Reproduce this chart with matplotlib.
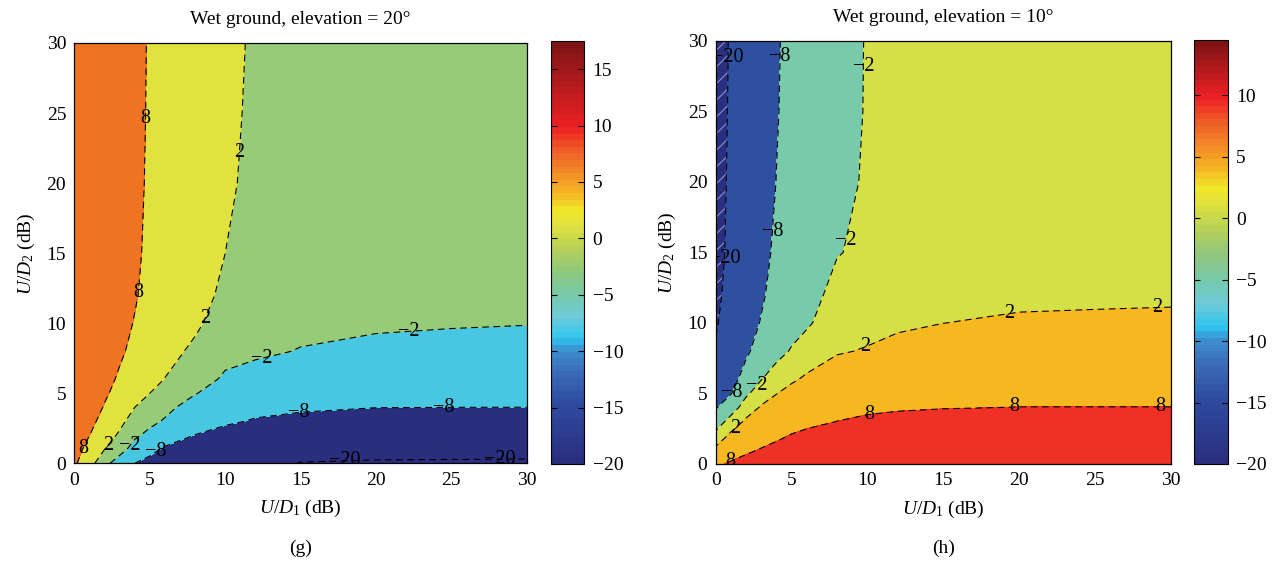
import numpy as np
import matplotlib
matplotlib.use("Agg")
import matplotlib.pyplot as plt
from matplotlib.colors import LinearSegmentedColormap, Normalize
from matplotlib.cm import ScalarMappable

plt.rcParams['font.family'] = 'Liberation Serif'
plt.rcParams['mathtext.fontset'] = 'custom'
plt.rcParams['mathtext.rm'] = 'Liberation Serif'
plt.rcParams['mathtext.it'] = 'Liberation Serif:italic'
plt.rcParams['font.size'] = 14
plt.rcParams['hatch.color'] = '#8c90c8'
plt.rcParams['hatch.linewidth'] = 0.8

# grid of U/D1 (x) and U/D2 (y), dB
u_d1 = [0, 1, 2, 3, 4, 5, 6, 8, 10, 12, 15, 20, 25, 30]
u_d2 = [0, 1, 2, 3, 4, 5, 6, 8, 10, 12, 15, 20, 25, 30]
levels = [-20, -8, -2, 2, 8]

# values, one list per U/D1 column (bottom -> top in U/D2)
z20_cols = [
    [9.0, 10.5, 11.8, 12.8, 13.6, 14.2, 14.7, 15.5, 16.0, 16.4, 16.8, 17.2, 17.4, 17.5],
    [3.4, 5.8, 8.0, 9.6, 10.8, 11.7, 12.4, 13.4, 14.0, 14.4, 14.8, 15.1, 15.2, 15.2],
    [-0.7, 2.0, 4.2, 6.0, 7.6, 8.8, 9.8, 11.2, 12.0, 12.5, 12.8, 13.0, 13.0, 13.0],
    [-4.3, -0.3, 1.3, 3.2, 4.7, 6.1, 7.2, 8.9, 9.9, 10.5, 10.9, 11.0, 11.0, 11.0],
    [-8.0, -3.8, -1.3, 0.0, 2.0, 3.5, 4.6, 6.5, 7.7, 8.5, 9.0, 9.2, 9.3, 9.3],
    [-9.2, -6.9, -3.1, -1.0, 0.5, 2.0, 3.4, 4.7, 5.6, 6.2, 6.8, 7.3, 7.5, 7.6],
    [-10.3, -8.6, -5.8, -2.4, -0.9, 0.5, 1.9, 3.6, 4.5, 5.0, 5.5, 6.0, 6.3, 6.4],
    [-12.6, -10.4, -8.1, -5.9, -3.8, -1.8, -0.8, 1.1, 2.8, 3.3, 3.8, 4.1, 4.25, 4.3],
    [-14.9, -12.2, -9.6, -7.3, -5.7, -4.0, -2.4, -1.15, -0.2, 1.3, 2.0, 2.5, 2.7, 2.8],
    [-17.2, -14.3, -11.4, -8.4, -6.7, -5.3, -3.8, -1.2, -0.6, 0.4, 1.0, 1.25, 1.45, 1.6],
    [-20.3, -16.7, -13.4, -9.8, -7.0, -5.9, -4.9, -2.2, -0.9, -0.1, 0.4, 0.55, 0.6, 0.6],
    [-20.8, -17.5, -14.2, -10.9, -7.9, -6.75, -5.6, -3.36, -1.2, -0.7, -0.2, -0.1, -0.1, -0.1],
    [-20.9, -17.6, -14.4, -11.2, -7.98, -6.9, -5.8, -3.7, -1.6, -1.05, -0.65, -0.45, -0.4, -0.4],
    [-21.0, -17.7, -14.5, -11.2, -8.0, -6.96, -5.9, -3.85, -1.85, -1.2, -0.8, -0.6, -0.5, -0.5],
]
z10_cols = [
    [7.2, 2.87, -0.7, -4.4, -8.5, -10.6, -13.0, -18.5, -21.6, -24.9, -30.0, -34.7, -41.6, -49.3],
    [8.6, 5.73, 2.86, -0.33, -4.14, -8.3, -10.8, -11.5, -12.4, -12.9, -13.3, -13.7, -13.9, -14.0],
    [9.5, 7.25, 4.97, 2.68, 0.0, -2.72, -5.12, -9.2, -10.3, -10.9, -11.3, -11.6, -11.8, -11.9],
    [10.2, 8.25, 6.3, 4.35, 2.4, 0.12, -2.13, -5.0, -7.7, -8.7, -9.4, -9.8, -9.9, -9.9],
    [10.9, 9.07, 7.28, 5.5, 3.7, 1.9, -0.05, -3.3, -5.0, -6.2, -7.2, -7.95, -8.25, -8.4],
    [11.6, 9.9, 8.22, 6.53, 4.85, 3.16, 1.5, -1.68, -3.5, -4.6, -5.6, -6.4, -6.8, -6.9],
    [11.9, 10.34, 8.78, 7.22, 5.66, 4.1, 2.55, -0.03, -2.6, -3.6, -4.4, -5.1, -5.5, -5.6],
    [12.5, 11.0, 9.5, 8.05, 6.7, 5.36, 4.0, 1.7, 0.5, -0.7, -2.2, -2.9, -3.3, -3.4],
    [13.0, 11.55, 10.1, 8.66, 7.34, 6.1, 4.88, 2.25, 0.9, 0.0, -1.2, -1.64, -1.77, -1.8],
    [13.4, 11.93, 10.47, 9.0, 7.65, 6.57, 5.48, 3.3, 1.3, 0.5, -0.3, -0.6, -0.7, -0.7],
    [13.8, 12.3, 10.8, 9.3, 7.88, 6.9, 5.9, 3.95, 1.98, 1.0, 0.5, 0.3, 0.2, 0.2],
    [14.2, 12.66, 11.1, 9.6, 8.05, 7.13, 6.23, 4.43, 2.5, 1.2, 0.95, 0.85, 0.8, 0.8],
    [14.4, 12.8, 11.2, 9.6, 8.05, 7.15, 6.28, 4.5, 2.4, 1.57, 1.2, 1.05, 1.0, 1.0],
    [14.5, 12.9, 11.27, 9.66, 8.05, 7.15, 6.3, 4.55, 2.45, 1.65, 1.3, 1.15, 1.1, 1.1],
]

# where the contour labels sit (U/D1, U/D2)
labels20 = [(4.55, 24.6), (10.85, 22.2), (4.0, 12.2), (8.6, 10.4), (22.2, 9.4),
            (12.5, 7.1), (24.5, 3.9), (14.9, 3.5), (28.2, 0.4), (17.9, 0.1),
            (0.5, 1.1), (2.3, 1.2), (3.4, 1.5), (5.5, 0.7)]
labels10 = [(0.74, 28.8), (4.03, 28.9), (9.4, 28.2), (0.4, 14.6), (3.9, 16.5),
            (8.4, 15.9), (1.14, 5.0), (2.6, 5.7), (1.5, 2.3), (0.8, 0.6),
            (9.9, 8.2), (10.1, 3.4), (19.4, 10.4), (19.7, 4.2), (29.1, 11.1), (29.3, 4.2)]

# colorbar palette anchored in value space
cb_vals = [-20, -15, -12, -10, -9, -7, -5, -3, -1, 0, 1.5, 2.5, 4, 6, 8, 10]
cb_cols = ['#2b2f7e', '#2d4a9f', '#3a6cb4', '#3d90d0', '#2ec5f0', '#6fcbd8', '#76c9a8',
           '#8fc77e', '#b5d05a', '#c8d84a', '#e6e33a', '#f1e929', '#f6b824', '#f38a26',
           '#ef5b27', '#ed2024']


def make_cmap(vmax):
    pts = [((v + 20) / (vmax + 20), c) for v, c in zip(cb_vals, cb_cols)]
    pts.append((1.0, '#7e1416'))
    return LinearSegmentedColormap.from_list('cb', pts, N=64)


def fmt(v):
    return ('%g' % v).replace('-', '\u2212')


def panel(ax, cax, zcols, fills, hatches, label_pos, title, vmax, caption):
    X, Y = np.meshgrid(u_d1, u_d2)
    Z = np.array(zcols).T
    ax.contourf(X, Y, Z, levels=[-60] + levels + [20], colors=fills, hatches=hatches)
    cs = ax.contour(X, Y, Z, levels=levels, colors='k', linewidths=0.8,
                    linestyles=[(0, (6, 4))])
    ax.clabel(cs, manual=label_pos, inline=False, fmt=fmt, fontsize=14.5, colors='k')
    for t in cs.labelTexts:
        t.set_rotation(0)
    ax.set_xlim(0, 30)
    ax.set_ylim(0, 30)
    ax.set_xticks(range(0, 31, 5))
    ax.set_yticks(range(0, 31, 5))
    ax.tick_params(length=0, pad=6)
    ax.set_xlabel(r'$U/D_1$ (dB)', labelpad=7)
    ax.set_ylabel(r'$U/D_2$ (dB)', labelpad=7)
    ax.set_title(title, pad=14, fontsize=14)
    for s in ax.spines.values():
        s.set_linewidth(0.9)
    sm = ScalarMappable(norm=Normalize(-20, vmax), cmap=make_cmap(vmax))
    cb = plt.colorbar(sm, cax=cax, ticks=np.arange(-20, vmax, 5))
    cb.ax.tick_params(direction='in', length=4, width=0.8, left=True, right=True, pad=6)
    cb.outline.set_linewidth(0.8)
    bb = ax.get_position()
    fig.text((bb.x0 + bb.x1) / 2, 1 - 548 / 567, caption, ha='center', va='center')


fig = plt.figure(figsize=(12.8, 5.67), dpi=100)
ax1 = fig.add_axes([0.0582, 0.1829, 0.3533, 0.7413])
cax1 = fig.add_axes([0.4302, 0.1817, 0.02625, 0.746])
ax2 = fig.add_axes([0.5591, 0.1817, 0.3557, 0.746])
cax2 = fig.add_axes([0.9328, 0.1817, 0.0263, 0.7478])

panel(ax1, cax1, z20_cols,
      ['#2a2e7f', '#2a2e7f', '#48c7e3', '#96cc78', '#e2e23f', '#f07322'],
      [None], labels20, 'Wet ground, elevation = 20°', 17.5, '(g)')
panel(ax2, cax2, z10_cols,
      ['#2b2f7f', '#2f4fa0', '#78cbaa', '#d5e047', '#f5b820', '#ee3124'],
      ['//', None, None, None, None, None], labels10,
      'Wet ground, elevation = 10°', 14.5, '(h)')

fig.savefig('out.png', dpi=100)
